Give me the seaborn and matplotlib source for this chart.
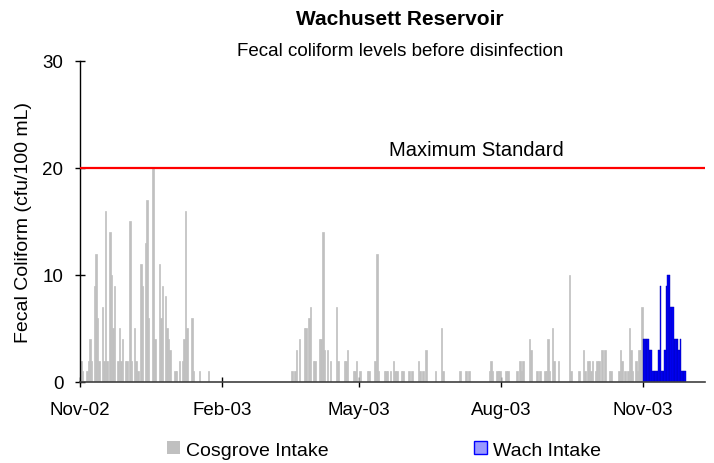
import numpy as np
import pandas as pd
import matplotlib
matplotlib.use('Agg')
import matplotlib.pyplot as plt
import seaborn as sns
from matplotlib.patches import Patch

# Daily fecal coliform counts (cfu/100 mL).
# Cosgrove Intake, one list per month starting 2002-11-01
cosgrove_start = '2002-11-01'
nov02 = [2, 1, 0, 0, 1, 2, 4, 2, 0, 9, 12, 6, 2, 0, 7, 2, 16, 2, 0, 14, 10, 5, 9, 0, 2, 5, 2, 4, 0, 2]
dec02 = [2, 0, 15, 2, 0, 5, 2, 1, 0, 11, 9, 0, 13, 17, 6, 0, 0, 20, 4, 0, 0, 11, 6, 9, 0, 8, 5, 4, 3, 0, 0]
jan03 = [1, 1, 0, 2, 0, 2, 4, 16, 5, 0, 0, 6, 1, 0, 0, 0, 1, 0, 0, 0, 0, 0, 1, 0, 0, 0, 0, 0, 0, 0, 0]
feb03 = [0, 0, 0, 0, 0, 0, 0, 0, 0, 0, 0, 0, 0, 0, 0, 0, 0, 0, 0, 0, 0, 0, 0, 0, 0, 0, 0, 0]
mar03 = [0, 0, 0, 0, 0, 0, 0, 0, 0, 0, 0, 0, 0, 0, 0, 0, 0, 1, 0, 1, 3, 0, 4, 0, 0, 5, 5, 0, 6, 7, 0]
apr03 = [2, 2, 0, 0, 4, 4, 14, 3, 0, 3, 0, 2, 0, 0, 0, 7, 2, 0, 0, 0, 2, 2, 3, 0, 0, 0, 1, 1, 2, 0]
may03 = [1, 0, 0, 0, 0, 1, 1, 0, 0, 0, 2, 12, 1, 0, 0, 0, 1, 1, 1, 0, 1, 0, 2, 1, 1, 0, 0, 1, 1, 0, 0]
jun03 = [0, 1, 0, 1, 0, 0, 0, 2, 1, 0, 1, 0, 3, 0, 0, 0, 0, 0, 1, 0, 0, 0, 5, 1, 0, 0, 0, 0, 0, 0]
jul03 = [0, 0, 0, 0, 1, 0, 0, 0, 1, 0, 1, 0, 0, 0, 0, 0, 0, 0, 0, 0, 0, 0, 0, 1, 2, 1, 0, 0, 1, 1, 1]
aug03 = [0, 0, 0, 1, 1, 0, 0, 0, 0, 0, 1, 0, 2, 1, 2, 0, 0, 0, 4, 3, 0, 0, 0, 1, 0, 1, 0, 0, 1, 1, 4]
sep03 = [1, 0, 5, 2, 0, 0, 2, 0, 0, 0, 0, 0, 0, 10, 1, 0, 0, 0, 0, 1, 0, 0, 3, 1, 0, 2, 2, 1, 2, 0]
oct03 = [1, 2, 2, 0, 3, 0, 3, 0, 0, 1, 1, 0, 0, 0, 0, 1, 3, 2, 0, 1, 0, 1, 5, 3, 1, 0, 2, 1, 3, 3, 7]

# Wach Intake, daily from 2003-11-01
wach_start = '2003-11-01'
wach = [4, 4, 4, 4, 3, 3, 1, 1, 1, 1, 3, 9, 1, 1, 3, 9, 10, 10, 7, 7, 4, 4, 4, 3, 4, 1, 1, 1]

max_standard = 20
tick_dates = ['2002-11-01', '2003-02-01', '2003-05-01', '2003-08-01', '2003-11-01']

# Build frames, x = days since first sample
t0 = pd.Timestamp(cosgrove_start)
cosgrove = nov02 + dec02 + jan03 + feb03 + mar03 + apr03 + may03 + jun03 + jul03 + aug03 + sep03 + oct03
cos_df = pd.DataFrame({'day': np.arange(len(cosgrove)), 'fc': cosgrove})
wach_off = (pd.Timestamp(wach_start) - t0).days
wach_df = pd.DataFrame({'day': wach_off + np.arange(len(wach)), 'fc': wach})

sns.set_style('white')
plt.rcParams['font.family'] = ['Liberation Sans', 'DejaVu Sans']
plt.rcParams['text.color'] = 'black'
plt.rcParams['xtick.color'] = 'black'
plt.rcParams['ytick.color'] = 'black'

fig = plt.figure(figsize=(7.14, 4.64), dpi=100)
ax = fig.add_axes([0.112, 0.1746, 0.8754, 0.6918])

sns.barplot(data=cos_df, x='day', y='fc', native_scale=True, width=1.0,
            color='#C0C0C0', saturation=1, errorbar=None,
            edgecolor='#C0C0C0', linewidth=0.5, ax=ax)
sns.barplot(data=wach_df, x='day', y='fc', native_scale=True, width=1.0,
            color='#0000FF', saturation=1, errorbar=None,
            edgecolor='#0000B0', linewidth=0.3, ax=ax)

# maximum standard line
ax.axhline(max_standard, color='#FF0000', lw=1.6, zorder=5)
fig.text(476.5 / 714, 1 - 156 / 464, 'Maximum Standard', ha='center', va='baseline', fontsize=14.5)

ax.set_xlim(-0.5, 404.9)
ax.set_ylim(0, 30)
ax.set_yticks([0, 10, 20, 30])
ax.set_xticks([(pd.Timestamp(t) - t0).days - 0.5 for t in tick_dates])
ax.set_xticklabels([pd.Timestamp(t).strftime('%b-%y') for t in tick_dates])
ax.set_xlabel('')
ax.set_ylabel('')

for s in ['top', 'right']:
    ax.spines[s].set_visible(False)
ax.spines['left'].set_color('black')
ax.spines['bottom'].set_color('#404040')
ax.spines['left'].set_linewidth(1)
ax.spines['bottom'].set_linewidth(1.2)
ax.tick_params(axis='y', direction='inout', length=7, width=1, pad=8.5, labelsize=13.5, left=True)
ax.tick_params(axis='x', direction='inout', length=7, width=1, pad=10, labelsize=13.5, bottom=True)

fig.text(400 / 714, 1 - 25 / 464, 'Wachusett Reservoir', ha='center', va='baseline',
         fontsize=15, fontweight='bold')
fig.text(400 / 714, 1 - 56 / 464, 'Fecal coliform levels before disinfection',
         ha='center', va='baseline', fontsize=13.5)
fig.text(24 / 714, 1 - 222.5 / 464, 'Fecal Coliform (cfu/100 mL)', rotation=90,
         ha='center', va='center', fontsize=14)

handles = [Patch(facecolor='#C0C0C0', edgecolor='none'),
           Patch(facecolor='#9999FF', edgecolor='#0000FF', linewidth=1)]
fig.legend(handles, ['Cosgrove Intake', 'Wach Intake'], loc='center',
           bbox_to_anchor=(384 / 714, 1 - 451 / 464), ncol=2, frameon=False,
           fontsize=14, handlelength=0.65, handleheight=0.65, handletextpad=0.3,
           columnspacing=7.5)

fig.savefig('out.png', dpi=100)
